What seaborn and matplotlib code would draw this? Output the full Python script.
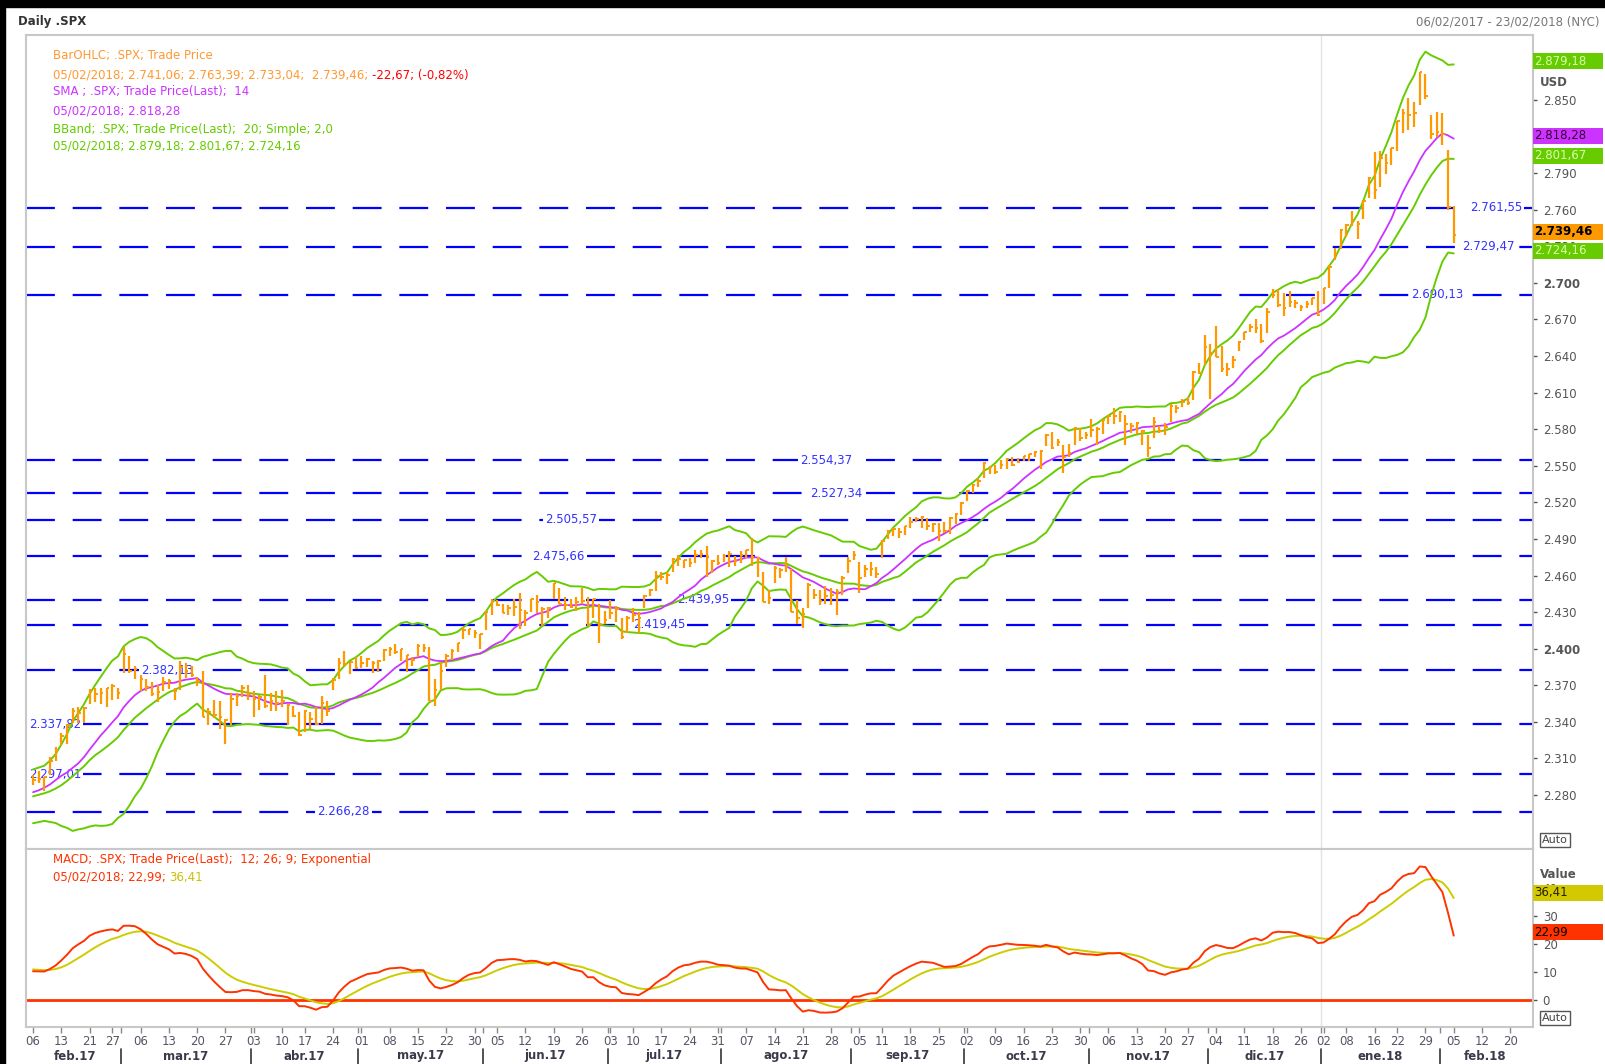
import numpy as np
import pandas as pd
import seaborn as sns
import matplotlib.pyplot as plt
from matplotlib.patches import Rectangle

sns.set_theme(style='white')
plt.rcParams['font.family'] = ['DejaVu Sans']

# ---- daily .SPX bars, 06/02/2017 .. 05/02/2018 (one list per month) ----
close_m = [
    [2292.56, 2293.08, 2294.67, 2307.87, 2316.10, 2328.25, 2337.58, 2349.25, 2347.22, 2351.16, 2365.38, 2362.82, 2363.81, 2367.34, 2369.75, 2363.64],
    [2395.96, 2381.92, 2383.12, 2375.31, 2368.39, 2362.98, 2364.87, 2372.60, 2373.47, 2365.45, 2385.26, 2381.38, 2378.25, 2373.47, 2344.02, 2348.45, 2345.96, 2343.98, 2341.59, 2358.57, 2361.13, 2368.06, 2362.72],
    [2358.84, 2360.16, 2352.95, 2357.49, 2355.54, 2357.16, 2353.78, 2344.93, 2328.95, 2349.01, 2342.19, 2338.17, 2355.84, 2348.69, 2374.15, 2388.61, 2387.45, 2388.77, 2384.20],
    [2388.33, 2391.17, 2388.13, 2389.52, 2399.29, 2399.38, 2396.92, 2399.63, 2394.44, 2390.90, 2402.32, 2400.67, 2357.03, 2365.72, 2381.73, 2394.02, 2398.42, 2404.39, 2415.07, 2415.82, 2412.91, 2411.80],
    [2430.06, 2439.07, 2436.10, 2429.33, 2433.14, 2433.79, 2431.77, 2429.39, 2440.35, 2437.92, 2432.46, 2433.15, 2453.46, 2437.03, 2435.61, 2434.50, 2438.30, 2439.07, 2419.38, 2440.69, 2419.70, 2423.41],
    [2429.01, 2432.54, 2409.75, 2425.18, 2427.43, 2425.53, 2443.25, 2447.83, 2459.27, 2459.14, 2460.61, 2473.83, 2473.45, 2472.54, 2469.91, 2477.13, 2477.83, 2475.42, 2472.10, 2470.30],
    [2476.35, 2477.57, 2472.16, 2476.83, 2480.91, 2474.92, 2474.02, 2438.21, 2441.32, 2465.84, 2464.61, 2468.11, 2430.01, 2425.55, 2428.37, 2452.51, 2444.04, 2438.97, 2443.05, 2444.24, 2446.30, 2457.59, 2471.65],
    [2476.55, 2457.85, 2465.54, 2465.10, 2461.43, 2488.11, 2496.48, 2498.37, 2495.62, 2500.23, 2503.87, 2506.65, 2508.24, 2500.60, 2502.22, 2496.66, 2496.84, 2507.04, 2510.06, 2519.36],
    [2529.12, 2534.58, 2537.74, 2552.07, 2549.33, 2544.73, 2550.64, 2555.24, 2550.93, 2553.17, 2557.64, 2559.36, 2561.26, 2562.10, 2575.21, 2564.98, 2569.13, 2557.15, 2560.40, 2581.07, 2572.83, 2575.26],
    [2579.36, 2579.85, 2587.84, 2591.13, 2590.64, 2594.38, 2584.62, 2582.30, 2584.84, 2578.87, 2564.62, 2585.64, 2578.85, 2582.14, 2599.03, 2597.08, 2602.42, 2601.42, 2627.04, 2626.07, 2647.58],
    [2642.22, 2639.44, 2629.57, 2629.27, 2636.98, 2651.50, 2659.99, 2664.11, 2662.85, 2652.01, 2675.81, 2690.16, 2681.47, 2679.25, 2684.57, 2683.34, 2680.50, 2682.62, 2687.54, 2673.61],
    [2695.81, 2713.06, 2723.99, 2743.15, 2747.71, 2751.29, 2748.23, 2767.56, 2786.24, 2776.42, 2802.56, 2798.03, 2810.30, 2832.97, 2839.13, 2837.54, 2839.25, 2872.87, 2853.53, 2822.43, 2823.81],
    [2821.98, 2762.13, 2739.46],
]
high_m = [
    [2296, 2300, 2295, 2311, 2319, 2331, 2338, 2351, 2352, 2352, 2367, 2368, 2368, 2368, 2371, 2368],
    [2401, 2394, 2386, 2378, 2375, 2373, 2370, 2377, 2375, 2368, 2390, 2388, 2386, 2377, 2382, 2351, 2358, 2357, 2342, 2364, 2364, 2370, 2370],
    [2365, 2362, 2378, 2364, 2365, 2366, 2355, 2353, 2348, 2350, 2348, 2352, 2361, 2357, 2376, 2392, 2398, 2389, 2393],
    [2394, 2392, 2390, 2391, 2400, 2401, 2404, 2400, 2395, 2393, 2404, 2404, 2401, 2375, 2389, 2396, 2400, 2405, 2418, 2416, 2415, 2412],
    [2431, 2441, 2440, 2437, 2436, 2441, 2446, 2432, 2441, 2444, 2434, 2434, 2454, 2450, 2442, 2441, 2442, 2450, 2442, 2441, 2437, 2431],
    [2440, 2435, 2425, 2427, 2433, 2430, 2444, 2449, 2464, 2463, 2463, 2474, 2477, 2473, 2474, 2481, 2481, 2484, 2473, 2477],
    [2478, 2480, 2476, 2480, 2481, 2491, 2475, 2463, 2448, 2468, 2466, 2475, 2465, 2440, 2433, 2454, 2449, 2448, 2451, 2450, 2449, 2460, 2475],
    [2480, 2471, 2469, 2471, 2467, 2489, 2497, 2499, 2499, 2501, 2508, 2508, 2509, 2507, 2503, 2503, 2504, 2508, 2511, 2520],
    [2530, 2535, 2540, 2553, 2550, 2551, 2555, 2556, 2557, 2556, 2558, 2560, 2562, 2563, 2576, 2578, 2572, 2567, 2568, 2582, 2581, 2578],
    [2588, 2582, 2588, 2592, 2597, 2595, 2592, 2585, 2586, 2579, 2575, 2590, 2583, 2585, 2601, 2600, 2605, 2606, 2628, 2634, 2657],
    [2650, 2665, 2648, 2634, 2640, 2652, 2660, 2666, 2670, 2666, 2679, 2695, 2695, 2692, 2693, 2686, 2682, 2685, 2688, 2693],
    [2696, 2715, 2729, 2744, 2748, 2759, 2751, 2768, 2787, 2807, 2808, 2806, 2811, 2833, 2843, 2852, 2848, 2873, 2871, 2838, 2840],
    [2839, 2809, 2763.39],
]
low_m = [
    [2288, 2290, 2283, 2296, 2308, 2321, 2322, 2339, 2339, 2339, 2355, 2356, 2355, 2352, 2358, 2359],
    [2380, 2380, 2375, 2365, 2365, 2361, 2356, 2365, 2367, 2358, 2366, 2376, 2377, 2369, 2344, 2337, 2343, 2334, 2322, 2337, 2353, 2360, 2358],
    [2344, 2350, 2351, 2349, 2349, 2352, 2337, 2344, 2328, 2332, 2334, 2337, 2338, 2345, 2366, 2375, 2386, 2379, 2383],
    [2384, 2385, 2380, 2381, 2390, 2394, 2396, 2390, 2381, 2386, 2393, 2397, 2357, 2353, 2366, 2385, 2391, 2397, 2408, 2411, 2409, 2400],
    [2415, 2428, 2435, 2429, 2428, 2427, 2416, 2419, 2430, 2429, 2419, 2425, 2441, 2437, 2432, 2433, 2431, 2437, 2419, 2425, 2405, 2420],
    [2424, 2422, 2408, 2413, 2422, 2413, 2433, 2443, 2447, 2456, 2453, 2463, 2468, 2466, 2467, 2470, 2474, 2459, 2462, 2469],
    [2471, 2467, 2468, 2470, 2474, 2468, 2459, 2438, 2437, 2454, 2458, 2463, 2430, 2420, 2417, 2433, 2441, 2436, 2437, 2436, 2428, 2444, 2462],
    [2473, 2446, 2459, 2460, 2458, 2474, 2490, 2492, 2491, 2493, 2499, 2504, 2499, 2497, 2496, 2488, 2495, 2494, 2502, 2510],
    [2521, 2528, 2533, 2540, 2543, 2543, 2547, 2547, 2550, 2552, 2554, 2554, 2557, 2547, 2566, 2564, 2566, 2544, 2557, 2567, 2570, 2572],
    [2574, 2567, 2576, 2584, 2584, 2586, 2567, 2577, 2576, 2567, 2557, 2573, 2577, 2575, 2586, 2593, 2598, 2600, 2604, 2625, 2633],
    [2605, 2639, 2627, 2624, 2630, 2644, 2653, 2660, 2659, 2651, 2659, 2688, 2680, 2673, 2680, 2679, 2677, 2679, 2682, 2673],
    [2683, 2696, 2719, 2728, 2738, 2747, 2736, 2752, 2770, 2769, 2779, 2789, 2797, 2808, 2823, 2825, 2828, 2846, 2851, 2818, 2820],
    [2813, 2760, 2733.04],
]
# closes before the first bar, only used to warm up the indicators
warmup_close = [
    2111.72, 2097.94, 2088.66, 2085.18, 2131.52, 2139.56, 2163.26, 2167.48, 2164.45, 2164.20, 2180.39,
    2176.94, 2187.12, 2181.90, 2198.18, 2202.94, 2204.72, 2213.35, 2201.72, 2204.66, 2198.81,
    2191.08, 2191.95, 2204.71, 2212.23, 2241.35, 2246.19, 2259.53, 2256.96, 2271.72, 2253.28, 2262.03,
    2258.07, 2262.53, 2270.76, 2265.18, 2260.96, 2263.79, 2268.88, 2249.92, 2249.26, 2238.83,
    2257.83, 2270.75, 2269.00, 2276.98, 2268.90, 2268.90, 2275.32, 2270.44, 2274.64, 2267.89,
    2271.89, 2263.69, 2271.31, 2265.20, 2280.07, 2298.37, 2296.68, 2294.69, 2280.90, 2278.87,
    2279.55, 2280.85, 2297.42,
]
# last values as printed by the terminal
last_open = 2741.06
sma_last = 2818.28
bb_last = [2879.18, 2801.67, 2724.16]
macd_last = 22.99
signal_last = 36.41

# horizontal support / resistance levels
levels = [2761.55, 2729.47, 2690.13, 2554.37, 2527.34, 2505.57, 2475.66, 2439.95, 2419.45, 2382.13, 2337.82, 2297.01, 2266.28]
level_label_at = [258.5, 257.2, 248.1, 140.1, 141.9, 95.1, 92.8, 118.4, 110.6, 23.7, 3.9, 3.9, 54.8]

month_labels = ['feb.17', 'mar.17', 'abr.17', 'may.17', 'jun.17', 'jul.17', 'ago.17',
                'sep.17', 'oct.17', 'nov.17', 'dic.17', 'ene.18', 'feb.18']
holidays = ['2017-02-20', '2017-04-14', '2017-05-29', '2017-07-04', '2017-09-04',
            '2017-11-23', '2017-12-25', '2018-01-01', '2018-01-15', '2018-02-19']

close = np.array(sum(close_m, []))
high = np.array(sum(high_m, []), dtype=float)
low = np.array(sum(low_m, []), dtype=float)
n = len(close)
idx = np.arange(n)
days = pd.bdate_range('2017-02-06', '2018-02-23', freq='C', holidays=holidays)

# indicators (SMA 14, Bollinger 20/2, MACD 12/26/9)
full = pd.Series(np.concatenate([warmup_close, close]))
sma = full.rolling(14).mean().values[-n:]
mid = full.rolling(20).mean()
sd = full.rolling(20).std(ddof=0)
bb_up = (mid + 2 * sd).values[-n:]
bb_mid = mid.values[-n:]
bb_lo = (mid - 2 * sd).values[-n:]
macd_full = full.ewm(span=12, adjust=False).mean() - full.ewm(span=26, adjust=False).mean()
sig_full = macd_full.ewm(span=9, adjust=False).mean()
macd = macd_full.values[-n:]
signal = sig_full.values[-n:]


def eu(v, nd=2):
    s = f"{v:,.{nd}f}"
    return s.replace(',', 'X').replace('.', ',').replace('X', '.')


W, H = 1606, 1064
def fx(px):
    return px / W
def fy(py):
    return 1 - py / H

ORANGE = '#ff9900'
SMA_C = '#cc33ff'
GREEN = '#66cc00'
BLUE = '#0000ff'
MACD_C = '#ff3300'
SIG_C = '#cccc00'
GRID = '#c8c8c8'

fig = plt.figure(figsize=(16.06, 10.64), dpi=100, facecolor='white')
ax = fig.add_axes([fx(26), fy(849), fx(1533) - fx(26), fy(35) - fy(849)])
am = fig.add_axes([fx(26), fy(1027), fx(1533) - fx(26), fy(849) - fy(1027)], sharex=ax)

# ---- main price panel ----
for lv, pos in zip(levels, level_label_at):
    ax.axhline(lv, color=BLUE, lw=1.6, linestyle=(0, (13, 8)), zorder=2)
    ax.text(pos, lv, eu(lv), color='#3333ff', fontsize=8.5, ha='center', va='center',
            bbox=dict(facecolor='white', edgecolor='none', pad=1.5), zorder=2.5)

sns.lineplot(x=idx, y=bb_up, ax=ax, color=GREEN, lw=1.4, zorder=3)
sns.lineplot(x=idx, y=bb_mid, ax=ax, color=GREEN, lw=1.4, zorder=3)
sns.lineplot(x=idx, y=bb_lo, ax=ax, color=GREEN, lw=1.4, zorder=3)
sns.lineplot(x=idx, y=sma, ax=ax, color=SMA_C, lw=1.3, zorder=3)
ax.vlines(idx, low, high, color=ORANGE, lw=1.6, zorder=4)
ax.hlines(close, idx, idx + 0.45, color=ORANGE, lw=1.4, zorder=4)

ax.axvline(227.5, color='#e2e2e2', lw=1, zorder=1)
am.axvline(227.5, color='#e2e2e2', lw=1, zorder=1)

ax.set_xlim(-1.24, 265.0)
ax.set_ylim(2235.7, 2903.3)
yt = np.arange(2280, 2851, 30)
ax.yaxis.tick_right()
ax.set_yticks(yt)
ax.set_yticklabels([eu(v, 0) for v in yt])
for lab, v in zip(ax.get_yticklabels(), yt):
    if v in (2400, 2700):
        lab.set_fontweight('bold')
ax.tick_params(axis='y', right=True, labelsize=8.5, colors='#555555', length=3, width=1, pad=4)
ax.tick_params(axis='x', bottom=False, labelbottom=False)
ax.set_xlabel('')
ax.set_ylabel('')
for sp in ax.spines.values():
    sp.set_color(GRID)
    sp.set_linewidth(1.5)


def value_box(axx, y, h, text, face, tcolor, bold=False):
    tr = axx.get_yaxis_transform()
    axx.add_patch(Rectangle((1.0, y - h / 2), 70 / 1507, h, transform=tr, facecolor=face,
                            edgecolor='none', clip_on=False, zorder=5))
    axx.text(1.0 + 1 / 1507, y, text, transform=tr, ha='left', va='center', fontsize=8.5,
             color=tcolor, fontweight='bold' if bold else 'normal', clip_on=False, zorder=6)


# value tags sit a few pixels above their value, as in the terminal
value_box(ax, bb_last[0] + 2.5, 13.1, eu(bb_last[0]), GREEN, '#d8ffb0')
value_box(ax, sma_last + 2.5, 13.1, eu(sma_last), SMA_C, '#330033')
value_box(ax, bb_last[1] + 2.5, 13.1, eu(bb_last[1]), GREEN, '#d8ffb0')
value_box(ax, close[-1] + 2.5, 13.1, eu(close[-1]), ORANGE, '#000000', bold=True)
value_box(ax, bb_last[2] + 2.0, 13.1, eu(bb_last[2]), GREEN, '#d8ffb0')

# ---- MACD panel ----
am.axhline(0, color=MACD_C, lw=2, zorder=2)
sns.lineplot(x=idx, y=signal, ax=am, color=SIG_C, lw=1.4, zorder=3)
sns.lineplot(x=idx, y=macd, ax=am, color=MACD_C, lw=1.4, zorder=3)
am.set_ylim(-9.64, 53.9)
am.yaxis.tick_right()
am.set_yticks([0, 10, 20, 30, 40])
am.set_yticklabels(['0', '10', '20', '30', '40'])
am.tick_params(axis='y', right=True, labelsize=8.5, colors='#555555', length=3, width=1, pad=4)
am.set_xlabel('')
am.set_ylabel('')
for sp in am.spines.values():
    sp.set_color(GRID)
    sp.set_linewidth(1.5)
value_box(am, signal_last + 1.8, 5.7, eu(signal_last), '#d4c800', '#222200')
value_box(am, macd_last + 1.2, 5.7, eu(macd_last), MACD_C, '#000000')

# x axis: first trading day of each week, month bands below
dser = pd.Series(days)
wk = dser.dt.isocalendar().week.values
week_start = np.union1d([0], np.where(wk != np.roll(wk, 1))[0])
month_id = (dser.dt.year * 12 + dser.dt.month).values
month_start = np.union1d([0], np.where(month_id != np.roll(month_id, 1))[0])
am.set_xticks(week_start)
am.set_xticklabels([days[i].strftime('%d') for i in week_start])
am.set_xticks(month_start[1:] - 0.5, minor=True)
am.tick_params(axis='x', which='major', bottom=True, labelsize=8.5, labelcolor='#555566',
               color='#888888', length=4, width=1, pad=2)
am.tick_params(axis='x', which='minor', bottom=True, color='#888888', length=4, width=1)

xtr = am.get_xaxis_transform()
ends = list(month_start[1:]) + [len(days)]
for k, (s, e) in enumerate(zip(month_start, ends)):
    am.text((s + e - 1) / 2, (1027 - 1056) / 178, month_labels[k], transform=xtr, ha='center',
            va='center', fontsize=8.5, fontweight='bold', color='#3a3a4a', clip_on=False)
    if k > 0:
        am.plot([s - 0.5, s - 0.5], [(1027 - 1049) / 178, (1027 - 1064) / 178], transform=xtr,
                color='#333333', lw=1.2, clip_on=False)
am.set_xlim(-1.24, 265.0)

# ---- texts ----
fig.add_artist(Rectangle((0, fy(7)), 1, 7 / H, transform=fig.transFigure, color='black'))
fig.add_artist(Rectangle((0, 0), 5 / W, 1, transform=fig.transFigure, color='black'))
fig.text(fx(18), fy(22), 'Daily .SPX', fontsize=8.5, fontweight='bold', color='#333333', va='center')
fig.text(fx(1600), fy(22), '06/02/2017 - 23/02/2018 (NYC)', fontsize=8.5, color='#777777',
         va='center', ha='right')

chg = close[-1] - close[-2]
legend_main = [
    ('BarOHLC; .SPX; Trade Price', '#ff9933'),
    (f"05/02/2018; {eu(last_open)}; {eu(high[-1])}; {eu(low[-1])};  {eu(close[-1])}; ", '#ff9933'),
    ('SMA ; .SPX; Trade Price(Last);  14', SMA_C),
    (f"05/02/2018; {eu(sma_last)}", SMA_C),
    ('BBand; .SPX; Trade Price(Last);  20; Simple; 2,0', GREEN),
    (f"05/02/2018; {eu(bb_last[0])}; {eu(bb_last[1])}; {eu(bb_last[2])}", GREEN),
]
ys = [56, 75, 92, 111, 129, 146]
for (txt, col), yy in zip(legend_main, ys):
    t = fig.text(fx(53), fy(yy), txt, fontsize=8.5, color=col, va='center')
    if yy == 75:
        fig.add_artist(plt.Annotation(f"{eu(chg)}; ({eu(chg / close[-2] * 100)}%)", xy=(1, 0.5),
                                      xycoords=t, va='center', ha='left', fontsize=8.5,
                                      color='#ff0000', annotation_clip=False))

fig.text(fx(53), fy(859), 'MACD; .SPX; Trade Price(Last);  12; 26; 9; Exponential', fontsize=8.5,
         color=MACD_C, va='center')
t2 = fig.text(fx(53), fy(877), f"05/02/2018; {eu(macd_last)}; ", fontsize=8.5, color=MACD_C, va='center')
fig.add_artist(plt.Annotation(eu(signal_last), xy=(1, 0.5), xycoords=t2, va='center', ha='left',
                              fontsize=8.5, color='#c8c000', annotation_clip=False))

fig.text(fx(1540), fy(875), 'Value', fontsize=8.5, fontweight='bold', color='#555555', va='center')
fig.text(fx(1540), fy(83), 'USD', fontsize=8.5, fontweight='bold', color='#555555', va='center')
for yy in (840, 1018):
    fig.text(fx(1542), fy(yy), 'Auto', fontsize=8, color='#444444', va='center',
             bbox=dict(boxstyle='square,pad=0.15', facecolor='white', edgecolor='#555555', lw=1))

fig.savefig('out.png', dpi=100, facecolor='white')
